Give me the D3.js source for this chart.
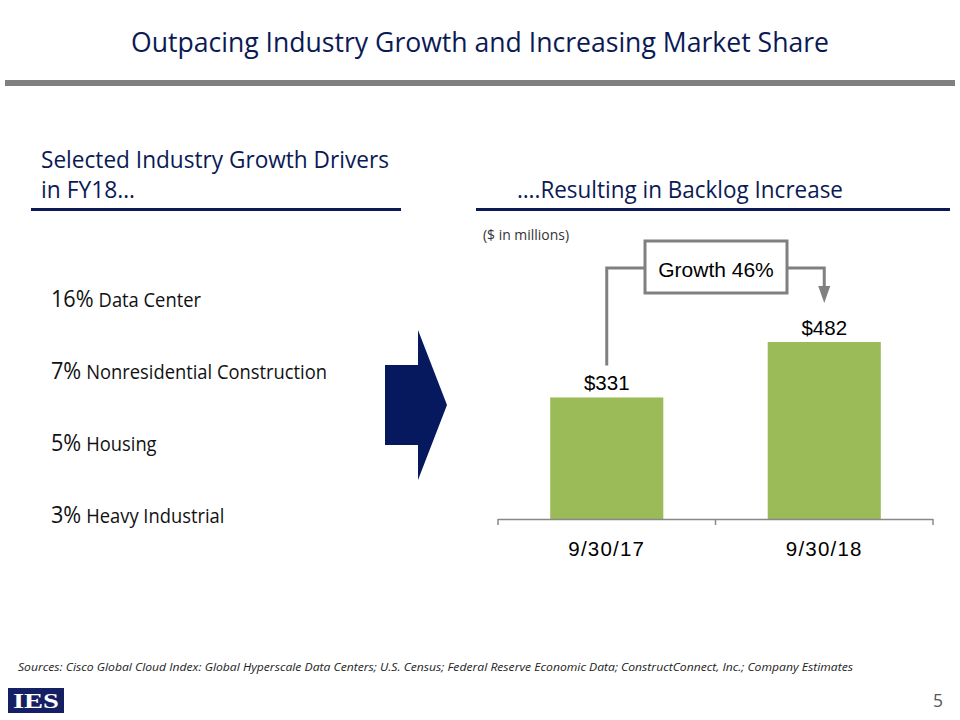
<!DOCTYPE html>
<html><head><meta charset="utf-8">
<script src="https://cdn.jsdelivr.net/npm/d3@7"></script>
<style>body{margin:0;background:#fff}svg{display:block}</style>
</head><body>
<svg id="c" width="960" height="720"></svg>
<script>
const categories = ["9/30/17", "9/30/18"];
const backlog = [331, 482];
const valueLabels = ["$331", "$482"];
const growthLabel = "Growth 46%";
const driverPct = ["16%", "7%", "5%", "3%"];
const driverNames = ["Data Center", "Nonresidential Construction", "Housing", "Heavy Industrial"];

const navy = "#0b1a55", grey = "#808080", green = "#9bbb59";
const cal = "'Open Sans', sans-serif";
const ari = "Arial, 'Liberation Sans', sans-serif";
const svg = d3.select("#c");

function condense(sel, f) {
  sel.each(function () {
    const w = this.getComputedTextLength();
    d3.select(this).attr("textLength", w * f).attr("lengthAdjust", "spacingAndGlyphs");
  });
  return sel;
}
const CF = 0.94;

// Title
svg.append("text").attr("x", 480).attr("y", 52).attr("text-anchor", "middle")
  .attr("font-family", cal).attr("font-size", 27).attr("fill", navy)
  .attr("textLength", 698).attr("lengthAdjust", "spacingAndGlyphs")
  .text("Outpacing Industry Growth and Increasing Market Share");
svg.append("rect").attr("x", 5).attr("y", 80).attr("width", 950).attr("height", 6).attr("fill", grey);

// Left heading
svg.append("text").attr("x", 41).attr("y", 168).attr("font-family", cal).attr("font-size", 23).attr("fill", navy)
  .attr("textLength", 348).attr("lengthAdjust", "spacingAndGlyphs").text("Selected Industry Growth Drivers");
svg.append("text").attr("x", 41).attr("y", 198).attr("font-family", cal).attr("font-size", 23).attr("fill", navy)
  .attr("textLength", 94).attr("lengthAdjust", "spacingAndGlyphs").text("in FY18…");
svg.append("rect").attr("x", 31).attr("y", 208).attr("width", 370).attr("height", 3).attr("fill", navy);

// Right heading
svg.append("text").attr("x", 517).attr("y", 198).attr("font-family", cal).attr("font-size", 23).attr("fill", navy)
  .attr("textLength", 326).attr("lengthAdjust", "spacingAndGlyphs").text("….Resulting in Backlog Increase");
svg.append("rect").attr("x", 476).attr("y", 208).attr("width", 474).attr("height", 3).attr("fill", navy);

svg.append("text").attr("x", 483).attr("y", 240).attr("font-family", cal).attr("font-size", 14).attr("fill", "#333")
  .attr("textLength", 86).attr("lengthAdjust", "spacingAndGlyphs").text("($ in millions)");

// Drivers list
const listY = d3.scalePoint().domain(d3.range(driverPct.length)).range([307, 523]);
driverPct.forEach((p, i) => {
  const g = svg.append("g");
  const a = g.append("text").attr("x", 51).attr("y", listY(i)).attr("font-family", cal)
    .attr("font-size", 23).attr("fill", "#111").text(p);
  condense(a, CF);
  const w = +a.attr("textLength");
  const b = g.append("text").attr("x", 51 + w + 5).attr("y", listY(i)).attr("font-family", cal)
    .attr("font-size", 19.5).attr("fill", "#111").text(driverNames[i]);
  condense(b, CF);
});

// Arrow
svg.append("path").attr("d", "M385,365 L418,365 L418,330 L447,405 L418,480 L418,445 L385,445 Z").attr("fill", "#06195e");

// Bar chart
const x = d3.scaleBand().domain(categories).range([498, 933]).paddingInner(0.48).paddingOuter(0.24);
const y = d3.scaleLinear().domain([0, 600]).range([519, 519 - 0.3672 * 600]);

svg.selectAll("rect.bar").data(backlog).join("rect").attr("class", "bar")
  .attr("x", (d, i) => x(categories[i])).attr("width", x.bandwidth())
  .attr("y", d => y(d)).attr("height", d => y(0) - y(d)).attr("fill", green);

svg.selectAll("text.val").data(backlog).join("text").attr("class", "val")
  .attr("x", (d, i) => x(categories[i]) + x.bandwidth() / 2).attr("y", d => y(d) - 7)
  .attr("text-anchor", "middle").attr("font-family", ari).attr("font-size", 20.5).attr("fill", "#000")
  .text((d, i) => valueLabels[i]);

// x axis
const axis = svg.append("g");
axis.append("line").attr("x1", 498).attr("x2", 933).attr("y1", 519.5).attr("y2", 519.5).attr("stroke", "#888").attr("stroke-width", 1.5);
[498, 498 + x.step(), 933].forEach(t => axis.append("line").attr("x1", t).attr("x2", t).attr("y1", 519).attr("y2", 525).attr("stroke", "#888").attr("stroke-width", 1.5));
categories.forEach(c => axis.append("text").attr("x", x(c) + x.bandwidth() / 2).attr("y", 556)
  .attr("text-anchor", "middle").attr("font-family", ari).attr("font-size", 20.5).attr("letter-spacing", 1.2).attr("fill", "#000").text(c));

// Growth annotation
const cx1 = x(categories[0]) + x.bandwidth() / 2, cx2 = x(categories[1]) + x.bandwidth() / 2;
const boxL = 645, boxR = 787, boxT = 241, boxB = 293, midY = 268;
svg.append("rect").attr("x", boxL).attr("y", boxT).attr("width", boxR - boxL).attr("height", boxB - boxT)
  .attr("fill", "#fff").attr("stroke", grey).attr("stroke-width", 3);
svg.append("text").attr("x", (boxL + boxR) / 2).attr("y", 277).attr("text-anchor", "middle")
  .attr("font-family", ari).attr("font-size", 21).attr("fill", "#000").text(growthLabel);
svg.append("path").attr("d", `M${cx1},${y(backlog[0]) - 32} L${cx1},${midY} L${boxL},${midY}`)
  .attr("fill", "none").attr("stroke", grey).attr("stroke-width", 3);
svg.append("path").attr("d", `M${boxR},${midY} L${cx2},${midY} L${cx2},${288}`)
  .attr("fill", "none").attr("stroke", grey).attr("stroke-width", 3);
svg.append("path").attr("d", `M${cx2 - 6},286 L${cx2 + 6},286 L${cx2},303 Z`).attr("fill", grey);

// Sources
svg.append("text").attr("x", 18).attr("y", 671).attr("font-family", cal).attr("font-style", "italic")
  .attr("font-size", 11).attr("fill", "#222").attr("textLength", 835).attr("lengthAdjust", "spacingAndGlyphs")
  .text("Sources:  Cisco Global Cloud Index: Global Hyperscale Data Centers; U.S. Census; Federal Reserve Economic Data; ConstructConnect, Inc.; Company Estimates");

// Logo
svg.append("rect").attr("x", 8).attr("y", 688).attr("width", 56).attr("height", 25).attr("fill", "#142063");
svg.append("text").attr("x", 36).attr("y", 708).attr("text-anchor", "middle").attr("font-family", "'Liberation Serif', 'DejaVu Serif', serif")
  .attr("font-weight", "bold").attr("font-size", 22).attr("fill", "#fff").attr("textLength", 46).attr("lengthAdjust", "spacingAndGlyphs").text("IES");

svg.append("text").attr("x", 933).attr("y", 707).attr("font-family", cal).attr("font-size", 18).attr("fill", "#555")
  .attr("textLength", 10).attr("lengthAdjust", "spacingAndGlyphs").text("5");
</script>
</body></html>
